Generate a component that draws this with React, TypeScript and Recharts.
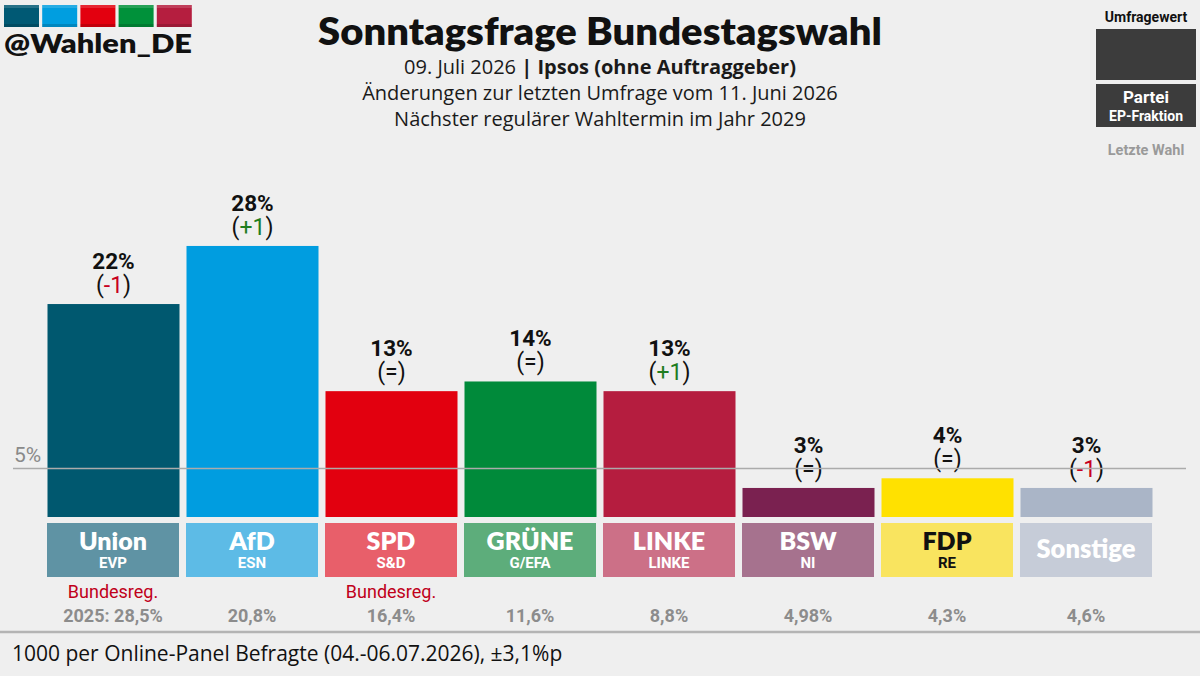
import React from 'react';
import { BarChart, Bar, XAxis, YAxis, ReferenceLine } from 'recharts';

const parties = ['Union', 'AfD', 'SPD', 'GRÜNE', 'LINKE', 'BSW', 'FDP', 'Sonstige'];
const fractions = ['EVP', 'ESN', 'S&D', 'G/EFA', 'LINKE', 'NI', 'RE', ''];
const values = [22, 28, 13, 14, 13, 3, 4, 3];
const changes = ['-1', '+1', '=', '=', '+1', '=', '=', '-1'];
const lastElection = ['2025: 28,5%', '20,8%', '16,4%', '11,6%', '8,8%', '4,98%', '4,3%', '4,6%'];
const government = ['Bundesreg.', '', 'Bundesreg.', '', '', '', '', ''];
const barColors = ['#00586f', '#009de0', '#e2000f', '#008a3a', '#b51d3f', '#7a2150', '#ffe100', '#aab5c7'];
const boxColors = ['#5f93a4', '#5dbbe6', '#e85f6a', '#5dad7b', '#cc7087', '#a6728e', '#f9e45f', '#c6ccd8'];
const boxTextColors = ['#fff', '#fff', '#fff', '#fff', '#fff', '#fff', '#111', '#fff'];
const logoColors = ['#005974', '#009ee0', '#e3000f', '#00913a', '#b51e3f'];
const yTicks = [0, 10, 20, 30, 40];
const thresholdValue = 5;

const data = parties.map((p, i) => ({
  party: p,
  value: values[i],
  change: changes[i],
  color: barColors[i],
}));

const W = 1200;
const H = 676;
const BG = '#efefef';

const changeColor = (c: string) => (c.startsWith('-') ? '#c8001e' : c.startsWith('+') ? '#1f7d1f' : '#111');

const BarShape = (props: any) => {
  const { x, y, width, height, payload } = props;
  const cx = x + width / 2;
  const ch = payload.change;
  return (
    <g>
      <rect x={x} y={y} width={width} height={height} fill={payload.color} />
      <text x={cx} y={y - 35} textAnchor="middle" fontFamily="Roboto" fontWeight={700} fontSize={22.5} fill="#111">
        {payload.value}%
      </text>
      <text x={cx} y={y - 11} textAnchor="middle" fontFamily="Roboto" fontWeight={400} fontSize={23} fill="#111">
        (<tspan fill={changeColor(ch)}>{ch}</tspan>)
      </text>
    </g>
  );
};

const PartyTick = (props: any) => {
  const { x, y, payload } = props;
  const i = parties.indexOf(payload.value);
  const bw = 132;
  const frac = fractions[i];
  const tc = boxTextColors[i];
  return (
    <g>
      <rect x={x - bw / 2} y={y + 6} width={bw} height={54} fill={boxColors[i]} />
      {frac ? (
        <>
          <text x={x} y={y + 33} textAnchor="middle" fontFamily="Lato" fontWeight={800} fontSize={25} fill={tc}>
            {parties[i]}
          </text>
          <text x={x} y={y + 51} textAnchor="middle" fontFamily="Roboto" fontWeight={700} fontSize={15} fill={tc}>
            {frac}
          </text>
        </>
      ) : (
        <text x={x} y={y + 41} textAnchor="middle" fontFamily="Lato" fontWeight={800} fontSize={25.5} fill={tc}>
          {parties[i]}
        </text>
      )}
      {government[i] ? (
        <text x={x} y={y + 81} textAnchor="middle" fontFamily="Roboto" fontWeight={400} fontSize={18} fill="#c0001a">
          {government[i]}
        </text>
      ) : null}
      <text x={x} y={y + 105} textAnchor="middle" fontFamily="Roboto" fontWeight={700} fontSize={18} fill="#8c8c8c">
        {lastElection[i]}
      </text>
    </g>
  );
};

const ThresholdLine = (props: any) => {
  const yy = props.y1;
  return (
    <g>
      <line x1={13} x2={1186} y1={yy} y2={yy} stroke="#ababab" strokeWidth={1.5} />
      <text x={14} y={yy - 7} fontFamily="Roboto" fontSize={21} fill="#8a8a8a">
        {thresholdValue}%
      </text>
    </g>
  );
};

const Decorations = () => (
  <svg width={W} height={H} style={{ position: 'absolute', left: 0, top: 0 }}>
    {logoColors.map((c, i) => (
      <g key={i}>
        <rect x={4 + i * 38.2} y={5} width={35} height={22} fill={c} />
        <rect x={4 + i * 38.2} y={5} width={35} height={3} fill="#ffffff" opacity={0.15} />
        <rect x={4 + i * 38.2} y={24} width={35} height={3} fill="#000" opacity={0.15} />
      </g>
    ))}
    <text x={4} y={53} fontFamily="Lato" fontWeight={800} fontSize={27} fill="#111" textLength={188} lengthAdjust="spacingAndGlyphs">
      @Wahlen_DE
    </text>
    <text x={600} y={45} textAnchor="middle" fontFamily="Lato" fontWeight={800} fontSize={37} fill="#111" textLength={564} lengthAdjust="spacingAndGlyphs">
      Sonntagsfrage Bundestagswahl
    </text>
    <text x={600} y={74} textAnchor="middle" fontFamily="Open Sans" fontSize={20} fill="#1a1a1a">
      09. Juli 2026 <tspan fontWeight={700}>| Ipsos (ohne Auftraggeber)</tspan>
    </text>
    <text x={600} y={100} textAnchor="middle" fontFamily="Open Sans" fontSize={20} fill="#1a1a1a">
      Änderungen zur letzten Umfrage vom 11. Juni 2026
    </text>
    <text x={600} y={126} textAnchor="middle" fontFamily="Open Sans" fontSize={20} fill="#1a1a1a">
      Nächster regulärer Wahltermin im Jahr 2029
    </text>
    <text x={1146} y={22} textAnchor="middle" fontFamily="Roboto" fontWeight={700} fontSize={14} fill="#111">
      Umfragewert
    </text>
    <rect x={1096} y={29} width={100} height={51} fill="#3c3c3c" />
    <rect x={1096} y={84} width={100} height={43} fill="#3c3c3c" />
    <text x={1146} y={103} textAnchor="middle" fontFamily="Roboto" fontWeight={700} fontSize={17} fill="#fff">
      Partei
    </text>
    <text x={1146} y={121} textAnchor="middle" fontFamily="Roboto" fontWeight={700} fontSize={14} fill="#fff">
      EP-Fraktion
    </text>
    <text x={1146} y={155} textAnchor="middle" fontFamily="Roboto" fontWeight={700} fontSize={14.5} fill="#9a9a9a">
      Letzte Wahl
    </text>
    <line x1={0} x2={W} y1={632} y2={632} stroke="#b4b4b4" strokeWidth={2.5} />
    <text x={12} y={661} fontFamily="Open Sans" fontSize={21} fill="#111">
      1000 per Online-Panel Befragte (04.-06.07.2026), ±3,1%p
    </text>
  </svg>
);

export default function App() {
  return (
    <div style={{ position: 'absolute', left: 0, top: 0, width: W, height: H, background: BG, overflow: 'hidden' }}>
      <Decorations />
      <div style={{ position: 'absolute', left: 0, top: 0 }}>
        <BarChart width={W} height={H} data={data} margin={{ top: 129.8, right: 44.5, bottom: 129, left: 43.5 }}>
          <YAxis hide width={0} domain={[0, 40]} ticks={yTicks} />
          <XAxis
            dataKey="party"
            height={30}
            interval={0}
            axisLine={false}
            tickLine={false}
            tickSize={0}
            tickMargin={0}
            tick={<PartyTick />}
          />
          <ReferenceLine y={thresholdValue} shape={<ThresholdLine />} ifOverflow="visible" />
          <Bar dataKey="value" barSize={132} isAnimationActive={false} shape={<BarShape />} />
        </BarChart>
      </div>
    </div>
  );
}
